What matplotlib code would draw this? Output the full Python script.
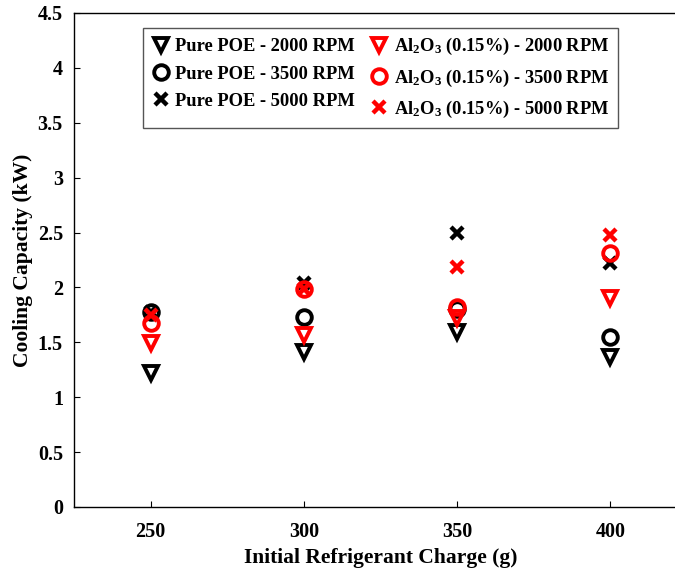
import matplotlib
matplotlib.use("Agg")
import matplotlib.pyplot as plt

plt.rcParams["font.family"] = ["Liberation Serif", "DejaVu Serif"]
plt.rcParams["font.weight"] = "bold"
plt.rcParams["mathtext.fontset"] = "custom"
plt.rcParams["mathtext.rm"] = "Liberation Serif:bold"
plt.rcParams["mathtext.bf"] = "Liberation Serif:bold"
plt.rcParams["mathtext.default"] = "rm"

charge = [250, 300, 350, 400]

# cooling capacity (kW)
poe_2000 = [1.22, 1.41, 1.59, 1.37]
poe_3500 = [1.78, 1.73, 1.80, 1.55]
poe_5000 = [1.78, 2.04, 2.50, 2.22]
al_2000 = [1.49, 1.57, 1.72, 1.90]
al_3500 = [1.68, 1.99, 1.82, 2.31]
al_5000 = [1.75, 1.99, 2.19, 2.48]

series = [
    (poe_2000, "v", "black", "Pure POE - 2000 RPM"),
    (poe_3500, "o", "black", "Pure POE - 3500 RPM"),
    (poe_5000, "x", "black", "Pure POE - 5000 RPM"),
    (al_2000, "v", "red", "Al$_2$O$_3$ (0.15%) - 2000 RPM"),
    (al_3500, "o", "red", "Al$_2$O$_3$ (0.15%) - 3500 RPM"),
    (al_5000, "x", "red", "Al$_2$O$_3$ (0.15%) - 5000 RPM"),
]

fig = plt.figure(figsize=(6.75, 5.71), dpi=100)
ax = fig.add_axes([74 / 675, 1 - 507 / 571, 613 / 675, 494 / 571])

for vals, mk, col, lab in series:
    if mk == "x":
        ax.plot(charge, vals, ls="none", marker=mk, ms=9, mew=3.2,
                color=col, label=lab)
    else:
        ax.plot(charge, vals, ls="none", marker=mk, ms=10.5, mew=2.8,
                mfc="none", mec=col, label=lab)

ax.set_xlim(225, 425)
ax.set_ylim(0, 4.5)
ax.set_xticks(charge)
ax.set_yticks([0, 0.5, 1, 1.5, 2, 2.5, 3, 3.5, 4, 4.5])
ax.set_yticklabels(["0", "0.5", "1", "1.5", "2", "2.5", "3", "3.5", "4", "4.5"])
ax.tick_params(direction="in", length=4, labelsize=14.5)
ax.tick_params(axis="x", pad=11)
ax.tick_params(axis="y", pad=8)
for sp in ax.spines.values():
    sp.set_linewidth(1.0)

ax.set_xlabel("Initial Refrigerant Charge (g)", fontsize=15.5, fontweight="bold", labelpad=4)
ax.set_ylabel("Cooling Capacity (kW)", fontsize=15.5, fontweight="bold", labelpad=3)

leg = ax.legend(ncol=2, loc="upper left",
                bbox_to_anchor=(143 / 675, 1 - 28 / 571),
                bbox_transform=fig.transFigure, borderaxespad=0,
                fancybox=False, framealpha=1,
                edgecolor="#555555", handlelength=1.0, handletextpad=0.3,
                columnspacing=0.8, labelspacing=0.55, borderpad=0.45,
                prop={"weight": "bold", "size": 13.3})
leg.get_frame().set_linewidth(1.0)

fig.savefig("out.png", dpi=100)
